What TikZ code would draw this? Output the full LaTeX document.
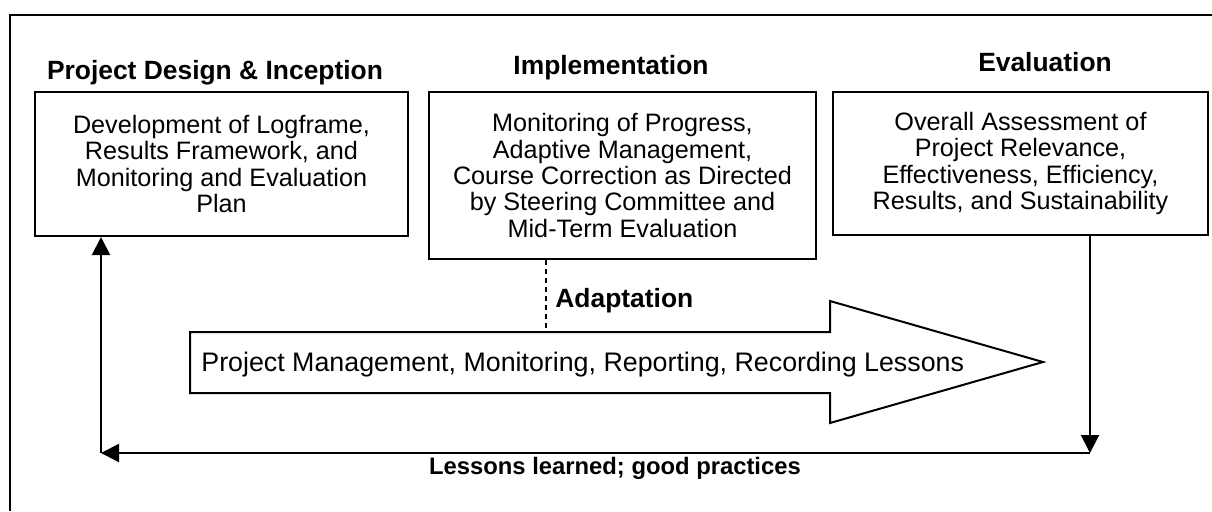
\documentclass[tikz,border=0pt]{standalone}
\usepackage{fontspec}
\setmainfont{Liberation Sans}
\usetikzlibrary{arrows.meta,positioning}
\tikzset{
	stagebox/.style={draw,line width=1pt,align=center,inner sep=0pt,font=\fontsize{12.6}{13.15}\selectfont},
	stagetitle/.style={anchor=base,inner sep=0pt,font=\fontsize{13.2}{14}\selectfont\bfseries},
	conn/.style={line width=1pt,-{Triangle[length=9pt,width=9pt]}},
}
\begin{document}
\begin{tikzpicture}[x=0.5pt,y=-0.5pt]
	\useasboundingbox (0,0) rectangle (1212,511);
	\draw[line width=1pt] (10,511)--(10,15)--(1212,15);
	% the three stages
	\node[stagetitle] (designtitle) at (215,79) {Project Design \& Inception};
	\node[stagetitle] (impltitle) at (611,74) {Implementation};
	\node[stagetitle] (evaltitle) at (1045,71) {Evaluation};
	\node[stagebox,minimum width=186.5pt,minimum height=72pt] (design) at (221.5,164)
	{Development of Logframe,\\Results Framework, and\\Monitoring and Evaluation\\Plan};
	\node[stagebox,minimum width=193.5pt,minimum height=83.5pt] (impl) at (622.5,175.5)
	{Monitoring of Progress,\\Adaptive Management,\\Course Correction as Directed\\by Steering Committee and\\Mid-Term Evaluation};
	\node[stagebox,minimum width=187.5pt,minimum height=71.5pt] (eval) at (1020.5,163.5)
	{Overall Assessment of\\Project Relevance,\\Effectiveness, Efficiency,\\Results, and Sustainability};
	% big arrow
	\draw[line width=1pt] (190,332)--(830,332)--(830,301)--(1043,362)--(830,423)--(830,393)--(190,393)--cycle;
	\node[anchor=base west,inner sep=0pt,font=\fontsize{13.4}{15}\selectfont] (flow) at (201,371)
	{Project Management, Monitoring, Reporting, Recording Lessons};
	\coordinate (flowtop) at (546,332);
	\draw[line width=1pt,dash pattern=on 2.5pt off 2pt] (impl.south -| flowtop) -- (flowtop);
	\node[anchor=base west,inner sep=0pt,font=\fontsize{13.2}{14}\selectfont\bfseries] (adapt) at (555,307) {Adaptation};
	% feedback loop
	\coordinate (evalfoot) at (1090,453);
	\coordinate (designfoot) at (101,453);
	\draw[conn] (eval.south -| evalfoot) -- (evalfoot);
	\draw[conn] (evalfoot) -- (designfoot);
	\draw[conn] (designfoot) -- (design.south -| designfoot);
	\node[anchor=base,inner sep=0pt,font=\fontsize{11.9}{13}\selectfont\bfseries] (lessons) at (615,474) {Lessons learned; good practices};
\end{tikzpicture}
\end{document}
